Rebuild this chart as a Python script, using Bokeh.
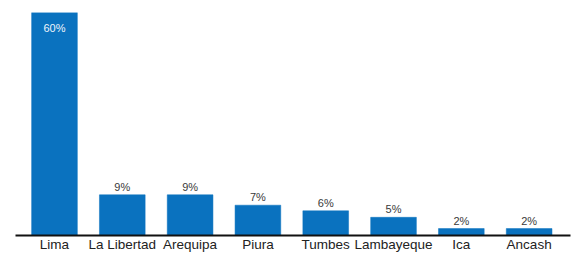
from bokeh.plotting import figure
from bokeh.models import ColumnDataSource, Range1d, FixedTicker
from bokeh.core.properties import value
from bokeh.embed import file_html
from bokeh.resources import INLINE

categories = ["Lima", "La Libertad", "Arequipa", "Piura", "Tumbes", "Lambayeque", "Ica", "Ancash"]
values = [60.0, 9.4, 9.4, 7.0, 5.7, 4.2, 1.6, 1.6]
labels = ["60%", "9%", "9%", "7%", "6%", "5%", "2%", "2%"]

Y_END = 51.5
BAR = "#0a72bf"
FONT = "Liberation Sans"

xs = list(range(len(categories)))
src = ColumnDataSource(dict(x=xs, top=values))

p = figure(width=576, height=254, output_backend="svg", toolbar_location=None,
           x_range=Range1d(-0.575, 7.61), y_range=Range1d(0, Y_END),
           min_border_left=15, min_border_right=6, min_border_top=12, min_border_bottom=0)
p.vbar(x="x", top="top", bottom=0, width=0.674, source=src,
       fill_color=BAR, line_color=BAR, line_width=0.5)

inside = [i for i, v in enumerate(values) if v > Y_END]
outside = [i for i, v in enumerate(values) if v <= Y_END]

p.text(x=[xs[i] for i in outside], y=[values[i] for i in outside],
       text=[labels[i] for i in outside], text_align="center", text_baseline="bottom",
       y_offset=-2, text_font=value(FONT), text_font_size="11px", text_color="#3a3a3a")
p.text(x=[xs[i] for i in inside], y=[min(values[i], Y_END) for i in inside],
       text=[labels[i] for i in inside], text_align="center", text_baseline="middle",
       y_offset=15, text_font=value(FONT), text_font_size="11px", text_color="#eef5fc")

p.yaxis.visible = False
p.xgrid.visible = False
p.ygrid.visible = False
p.outline_line_color = None

ax = p.xaxis[0]
ax.ticker = FixedTicker(ticks=xs)
ax.major_label_overrides = {i: c for i, c in enumerate(categories)}
ax.major_tick_line_color = None
ax.minor_tick_line_color = None
ax.major_tick_out = 0
ax.major_tick_in = 0
ax.axis_line_color = "#111111"
ax.axis_line_width = 2
ax.major_label_standoff = 1
ax.major_label_text_font = FONT
ax.major_label_text_font_size = "13.5px"
ax.major_label_text_color = "#222222"

open("out.html", "w").write(file_html(p, INLINE))
